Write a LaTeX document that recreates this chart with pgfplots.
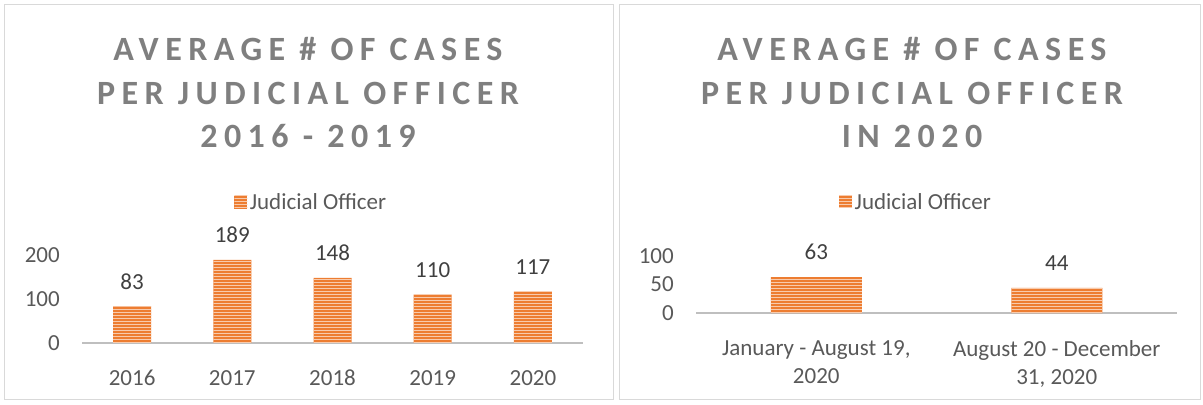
\documentclass[border=0pt]{standalone}
\usepackage{fontspec}
\setmainfont{Carlito}
\newfontfamily\titlefont[LetterSpace=19]{Carlito}
\usepackage{pgfplots}
\pgfplotsset{compat=1.18}
\usetikzlibrary{patterns}

\definecolor{barorange}{HTML}{ED7D31}
\definecolor{stripe}{HTML}{F8CBAD}
\definecolor{titlegray}{HTML}{7F7F7F}
\definecolor{ticktext}{HTML}{595959}
\definecolor{labeltext}{HTML}{404040}
\definecolor{axisgray}{HTML}{BFBFBF}
\definecolor{framegray}{HTML}{D9D9D9}

\newcommand{\bodyfont}{\fontsize{23bp}{28bp}\selectfont}
\newcommand{\headfont}{\titlefont\bfseries\fontsize{34bp}{43.5bp}\selectfont}

\pgfplotsset{
  jo/.style={
    scale only axis,
    /pgf/number format/assume math mode=true,
    axis x line=bottom,
    axis y line=left,
    y axis line style={draw=none},
    x axis line style={axisgray, line width=2.5bp, -},
    major tick length=0pt,
    ymin=0,
    xtick=data,
    tick label style={font=\bodyfont, text=ticktext, inner sep=0pt},
    yticklabel style={anchor=east, xshift=-22bp},
    xticklabel style={anchor=north, yshift=-27bp, align=center},
    legend style={draw=none, fill=none, font=\bodyfont, text=ticktext,
                  anchor=center, legend cell align=left,
                  nodes={inner sep=2.5bp}},
    legend image code/.code={\draw[#1, draw=none] (-1bp,-6.5bp) rectangle (12bp,6.5bp);},
    clip=false,
  },
  jobar/.style={
    ybar, fill=barorange, draw=none,
    postaction={pattern=horizontal lines, pattern color=stripe},
    nodes near coords,
    nodes near coords style={font=\bodyfont, text=labeltext, anchor=south,
                             inner sep=0pt, yshift=17bp},
  },
}

\begin{document}
\begin{tikzpicture}
\useasboundingbox (0,0) rectangle (1203bp,405bp);
\draw[framegray, line width=1bp] (4bp,5bp) rectangle (613bp,400bp);
\draw[framegray, line width=1bp] (619bp,5bp) rectangle (1200bp,400bp);

\node[text=titlegray, align=center, font=\headfont]
  at (308bp,312bp) {AVERAGE \# OF CASES\\PER JUDICIAL OFFICER\\2016 - 2019};
\node[text=titlegray, align=center, font=\headfont]
  at (912bp,312bp) {AVERAGE \# OF CASES\\PER JUDICIAL OFFICER\\IN 2020};

\begin{axis}[jo,
  at={(82bp,62bp)}, anchor=south west,
  width=501bp, height=88bp,
  xmin=-0.5, xmax=4.5, ymax=200,
  ytick={0,100,200},
  xticklabels={2016,2017,2018,2019,2020},
  legend style={at={(0.458,1.60)}},
]
\addplot[jobar, bar width=38bp] coordinates {(0,83) (1,189) (2,148) (3,110) (4,117)};
\addlegendentry{Judicial Officer}
\end{axis}

\begin{axis}[jo,
  at={(696bp,92bp)}, anchor=south west,
  width=481bp, height=57bp,
  xmin=-0.5, xmax=1.5, ymax=100,
  ytick={0,50,100},
  xticklabels={{January - August 19,\\2020},{August 20 - December\\31, 2020}},
  legend style={at={(0.458,1.95)}},
]
\addplot[jobar, bar width=91bp] coordinates {(0,63) (1,44)};
\addlegendentry{Judicial Officer}
\end{axis}
\end{tikzpicture}
\end{document}
